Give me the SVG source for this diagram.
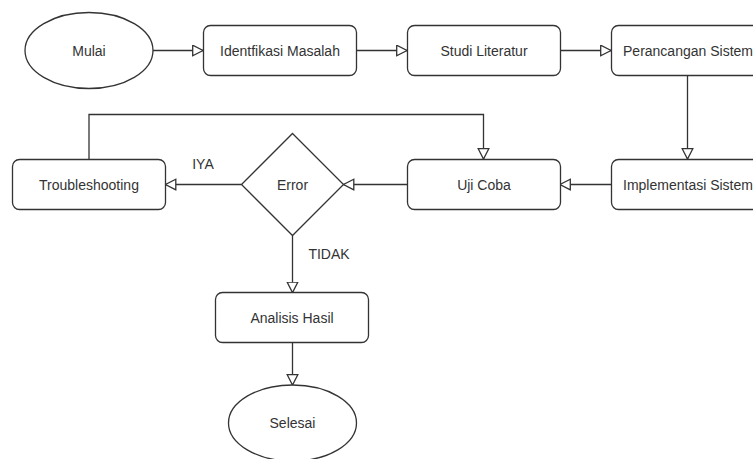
<svg xmlns="http://www.w3.org/2000/svg" width="753" height="459" viewBox="0 0 753 459">
<style>
.s{fill:#fff;stroke:#333;stroke-width:1.3}
.t{font-family:"Liberation Sans",Arial,sans-serif;font-size:14px;fill:#333;text-anchor:middle;dominant-baseline:central}
.c{fill:none;stroke:#333;stroke-width:1.3}
</style>
<defs>
<marker id="a" markerUnits="userSpaceOnUse" markerWidth="14" markerHeight="14" refX="11" refY="6" orient="auto">
<path d="M0.7,0.7 L11,6 L0.7,11.3 Z" fill="#fff" stroke="#333" stroke-width="1.3"/>
</marker>
</defs>
<rect width="753" height="459" fill="#fff"/>
<g id="connectors">
<path class="c" d="M153,50.5 H203" marker-end="url(#a)"/>
<path class="c" d="M357,50.5 H407" marker-end="url(#a)"/>
<path class="c" d="M560,50.5 H611" marker-end="url(#a)"/>
<path class="c" d="M687.5,76 V159" marker-end="url(#a)"/>
<path class="c" d="M611,184.5 H560" marker-end="url(#a)"/>
<path class="c" d="M407,184.5 H343.5" marker-end="url(#a)"/>
<path class="c" d="M241.5,184.5 H165.5" marker-end="url(#a)"/>
<path class="c" d="M89,159 V114.5 H483.5 V159" marker-end="url(#a)"/>
<path class="c" d="M292.5,235.5 V292.5" marker-end="url(#a)"/>
<path class="c" d="M292.5,342.5 V385" marker-end="url(#a)"/>
<text class="t" x="203" y="164">IYA</text>
<text class="t" x="329" y="254">TIDAK</text>
</g>
<g id="mulai"><ellipse class="s" cx="89" cy="50.5" rx="64" ry="38"/><text class="t" x="89" y="50.5">Mulai</text></g>
<g id="identifikasi"><rect class="s" x="203.5" y="25.5" width="153" height="50" rx="7"/><text class="t" x="280" y="50.5">Identfikasi Masalah</text></g>
<g id="studi"><rect class="s" x="407.5" y="25.5" width="153" height="50" rx="7"/><text class="t" x="484" y="50.5">Studi Literatur</text></g>
<g id="perancangan"><rect class="s" x="611.5" y="25.5" width="153" height="50" rx="7"/><text class="t" x="688" y="50.5">Perancangan Sistem</text></g>
<g id="implementasi"><rect class="s" x="611.5" y="159.5" width="153" height="50" rx="7"/><text class="t" x="688" y="184.5">Implementasi Sistem</text></g>
<g id="ujicoba"><rect class="s" x="407.5" y="159.5" width="153" height="50" rx="7"/><text class="t" x="484" y="184.5">Uji Coba</text></g>
<g id="error"><path class="s" d="M292.5,133.5 L343.5,184.5 L292.5,235.5 L241.5,184.5 Z"/><text class="t" x="292.5" y="184.5">Error</text></g>
<g id="troubleshooting"><rect class="s" x="12.5" y="159.5" width="153" height="50" rx="7"/><text class="t" x="89" y="184.5">Troubleshooting</text></g>
<g id="analisis"><rect class="s" x="215.5" y="292.5" width="153" height="50" rx="7"/><text class="t" x="292" y="317.5">Analisis Hasil</text></g>
<g id="selesai"><ellipse class="s" cx="292.5" cy="423" rx="64" ry="38"/><text class="t" x="292.5" y="423">Selesai</text></g>
</svg>
